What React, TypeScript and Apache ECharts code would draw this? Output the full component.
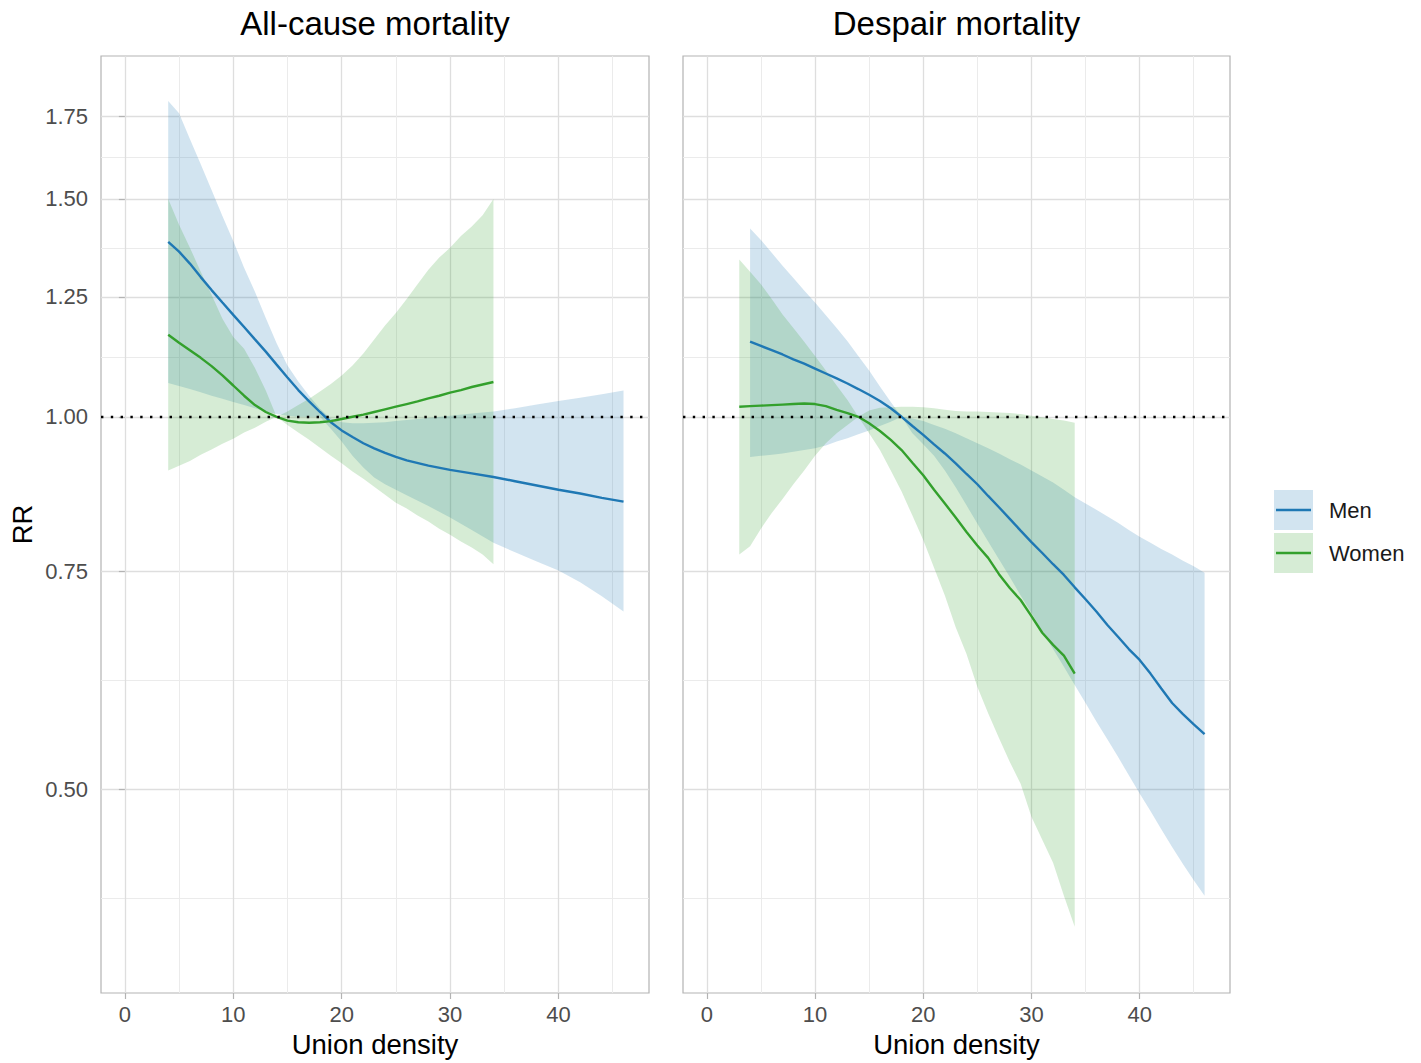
import React, { useEffect, useRef } from 'react';
import * as echarts from 'echarts';

// ---- axis breaks ----
const xTicks = [0, 10, 20, 30, 40];
const xMinorTicks = [5, 15, 25, 35, 45];
const rrTicks = [0.5, 0.75, 1, 1.25, 1.5, 1.75];
const rrMinorTicks = [0.408, 0.612, 1.118, 1.369, 1.62];

const panelTitles = ['All-cause mortality', 'Despair mortality'];
const groupNames = ['Men', 'Women'];

// ---- All-cause mortality ----
const acMenX = [4, 5, 6, 7, 8, 9, 10, 11, 12, 13, 14, 15, 16, 17, 18, 19, 20, 21, 22, 23, 24, 25, 26, 28, 30, 32, 34, 36, 38, 40, 42, 44, 46];
const acMenRR = [1.385, 1.36, 1.33, 1.297, 1.266, 1.237, 1.209, 1.182, 1.155, 1.129, 1.102, 1.076, 1.051, 1.029, 1.009, 0.99, 0.975, 0.963, 0.952, 0.943, 0.935, 0.928, 0.922, 0.913, 0.906, 0.9, 0.894, 0.887, 0.88, 0.873, 0.867, 0.86, 0.854];
const acMenHi = [1.8, 1.76, 1.677, 1.6, 1.525, 1.453, 1.387, 1.32, 1.262, 1.202, 1.147, 1.1, 1.068, 1.04, 1.015, 0.997, 0.99, 0.988, 0.988, 0.989, 0.99, 0.992, 0.994, 0.998, 1.002, 1.006, 1.01, 1.016, 1.023, 1.03, 1.036, 1.043, 1.05];
const acMenLo = [1.065, 1.059, 1.053, 1.047, 1.04, 1.034, 1.028, 1.022, 1.016, 1.01, 1.005, 1.002, 1.0, 1.0, 1.0, 0.978, 0.955, 0.93, 0.91, 0.893, 0.882, 0.873, 0.864, 0.847, 0.829, 0.81, 0.791, 0.777, 0.764, 0.751, 0.735, 0.716, 0.696];

const acWomenX = [4, 5, 6, 7, 8, 9, 10, 11, 12, 13, 14, 15, 16, 17, 18, 19, 20, 21, 22, 23, 24, 25, 26, 27, 28, 29, 30, 31, 32, 33, 34];
const acWomenRR = [1.165, 1.148, 1.132, 1.116, 1.099, 1.08, 1.06, 1.04, 1.022, 1.009, 1.0, 0.993, 0.99, 0.989, 0.99, 0.992, 0.996, 1.0, 1.004, 1.009, 1.014, 1.019, 1.024, 1.029, 1.035, 1.04, 1.046, 1.051, 1.057, 1.062, 1.067];
const acWomenHi = [1.5, 1.43, 1.37, 1.31, 1.255, 1.2, 1.16, 1.135, 1.095, 1.05, 1.0, 1.01, 1.022, 1.034, 1.048, 1.063, 1.08, 1.1, 1.125, 1.155, 1.185, 1.213, 1.245, 1.28, 1.315, 1.345, 1.37, 1.4, 1.425, 1.455, 1.5];
const acWomenLo = [0.905, 0.913, 0.921, 0.932, 0.941, 0.951, 0.96, 0.971, 0.98, 0.991, 1.0, 0.985, 0.971, 0.958, 0.944, 0.93, 0.917, 0.903, 0.891, 0.878, 0.865, 0.852, 0.843, 0.832, 0.823, 0.812, 0.803, 0.793, 0.784, 0.774, 0.76];

// ---- Despair mortality ----
const dpMenX = [4, 5, 6, 7, 8, 9, 10, 11, 12, 13, 14, 15, 16, 17, 18, 19, 20, 21, 22, 23, 24, 25, 26, 27, 28, 29, 30, 31, 32, 33, 34, 35, 36, 37, 38, 39, 40, 41, 42, 43, 44, 45, 46];
const dpMenRR = [1.15, 1.141, 1.132, 1.123, 1.113, 1.104, 1.094, 1.084, 1.074, 1.064, 1.053, 1.042, 1.03, 1.016, 1.0, 0.983, 0.967, 0.95, 0.934, 0.917, 0.899, 0.882, 0.863, 0.845, 0.827, 0.809, 0.792, 0.776, 0.76, 0.745, 0.728, 0.712, 0.696, 0.679, 0.664, 0.649, 0.636, 0.62, 0.603, 0.587, 0.575, 0.564, 0.554];
const dpMenHi = [1.42, 1.39, 1.357, 1.325, 1.295, 1.265, 1.237, 1.208, 1.18, 1.151, 1.12, 1.09, 1.058, 1.028, 1.0, 0.997, 0.992, 0.985, 0.978, 0.97, 0.961, 0.952, 0.943, 0.934, 0.924, 0.915, 0.905, 0.895, 0.885, 0.873, 0.861, 0.851, 0.841, 0.831, 0.821, 0.81, 0.8, 0.791, 0.782, 0.774, 0.765, 0.757, 0.748];
const dpMenLo = [0.928, 0.93, 0.932, 0.934, 0.937, 0.94, 0.943, 0.948, 0.955, 0.961, 0.968, 0.975, 0.983, 0.991, 1.0, 0.97, 0.95, 0.93, 0.905, 0.877, 0.848, 0.82, 0.793, 0.767, 0.742, 0.717, 0.694, 0.671, 0.649, 0.628, 0.607, 0.587, 0.567, 0.549, 0.531, 0.513, 0.496, 0.48, 0.464, 0.449, 0.435, 0.422, 0.41];

const dpWomenX = [3, 4, 5, 6, 7, 8, 9, 10, 11, 12, 13, 14, 15, 16, 17, 18, 19, 20, 21, 22, 23, 24, 25, 26, 27, 28, 29, 30, 31, 32, 33, 34];
const dpWomenRR = [1.019, 1.02, 1.021, 1.022, 1.023, 1.024, 1.025, 1.024, 1.02, 1.013, 1.007, 1.0, 0.988, 0.974, 0.958, 0.94, 0.918, 0.897, 0.873, 0.851, 0.829, 0.807, 0.787, 0.769, 0.746, 0.727, 0.711, 0.69, 0.669, 0.654, 0.641, 0.62];
const dpWomenHi = [1.34, 1.31, 1.28, 1.245, 1.21, 1.18, 1.15, 1.12, 1.09, 1.06, 1.032, 1.0, 1.012, 1.017, 1.018, 1.019, 1.019, 1.018, 1.016, 1.013, 1.011, 1.01, 1.01, 1.009, 1.008, 1.007, 1.005, 1.002, 0.999, 0.996, 0.993, 0.989];
const dpWomenLo = [0.774, 0.786, 0.812, 0.836, 0.858, 0.882, 0.905, 0.93, 0.952, 0.97, 0.985, 1.0, 0.97, 0.94, 0.905, 0.87, 0.832, 0.795, 0.755, 0.717, 0.676, 0.643, 0.605, 0.576, 0.55, 0.526, 0.505, 0.475, 0.455, 0.436, 0.41, 0.387];

// ---- styling ----
const FONT = 'Liberation Sans, Arial, Helvetica, sans-serif';
const MEN_LINE = '#1f78b4';
const WOMEN_LINE = '#33a02c';
const MEN_FILL = 'rgba(31,120,180,0.2)';
const WOMEN_FILL = 'rgba(51,160,44,0.2)';
const X_MIN = -2.2;
const X_MAX = 48.35;
const Y_MIN = 0.3421;
const Y_MAX = 1.9575;

const GRID_TOP = 56;
const GRID_H = 938;
const GRIDS = [
  { left: 101, width: 548 },
  { left: 683, width: 547 },
];

function ribbon(name: string, xs: number[], lo: number[], hi: number[], fill: string, panel: number) {
  return {
    type: 'custom',
    name,
    xAxisIndex: panel,
    yAxisIndex: panel,
    silent: true,
    clip: true,
    data: [[xs[0], lo[0]]],
    renderItem: (_params: any, api: any) => {
      const pts: number[][] = [];
      for (let i = 0; i < xs.length; i++) pts.push(api.coord([xs[i], hi[i]]));
      for (let i = xs.length - 1; i >= 0; i--) pts.push(api.coord([xs[i], lo[i]]));
      return { type: 'polygon', shape: { points: pts }, style: { fill, stroke: null } };
    },
  };
}

function curve(name: string, xs: number[], ys: number[], color: string, panel: number, withRef: boolean) {
  const s: any = {
    type: 'line',
    name,
    xAxisIndex: panel,
    yAxisIndex: panel,
    silent: true,
    showSymbol: false,
    symbol: 'none',
    smooth: false,
    data: xs.map((x, i) => [x, ys[i]]),
    lineStyle: { color, width: 2.4 },
    itemStyle: { color },
  };
  if (withRef) {
    // reference line at RR = 1
    s.markLine = {
      silent: true,
      symbol: ['none', 'none'],
      label: { show: false },
      lineStyle: { color: '#000', type: [2.4, 7.4], width: 2.4 },
      emphasis: { disabled: true },
      data: [{ yAxis: 1 }],
    };
  }
  return s;
}

function majorX(panel: number) {
  return {
    gridIndex: panel,
    type: 'value',
    min: X_MIN,
    max: X_MAX,
    position: 'bottom',
    axisLine: { show: false },
    axisTick: { show: true, length: 6, customValues: xTicks, lineStyle: { color: '#b3b3b3', width: 1.2 } },
    axisLabel: { customValues: xTicks, fontSize: 22, color: '#4d4d4d', fontFamily: FONT, margin: 10 },
    splitLine: { show: true, lineStyle: { color: '#dedede', width: 1.3 } },
    name: 'Union density',
    nameLocation: 'middle',
    nameGap: 37,
    nameTextStyle: { fontSize: 27.5, color: '#000', fontFamily: FONT },
  };
}

function minorX(panel: number) {
  return {
    gridIndex: panel,
    type: 'value',
    min: X_MIN,
    max: X_MAX,
    position: 'top',
    axisLine: { show: false },
    axisTick: { show: false, customValues: xMinorTicks },
    axisLabel: { show: false, customValues: xMinorTicks },
    splitLine: { show: true, lineStyle: { color: '#ebebeb', width: 1 } },
  };
}

function majorY(panel: number) {
  const first = panel === 0;
  return {
    gridIndex: panel,
    type: 'log',
    min: Y_MIN,
    max: Y_MAX,
    position: 'left',
    axisLine: { show: false },
    axisTick: { show: first, length: 6, customValues: rrTicks, lineStyle: { color: '#b3b3b3', width: 1.2 } },
    axisLabel: {
      show: first,
      customValues: rrTicks,
      formatter: (v: number) => Number(v).toFixed(2),
      fontSize: 22,
      color: '#4d4d4d',
      fontFamily: FONT,
      margin: 13,
    },
    splitLine: { show: true, lineStyle: { color: '#dedede', width: 1.3 } },
    name: first ? 'RR' : '',
    nameLocation: 'middle',
    nameGap: 65,
    nameRotate: 90,
    nameTextStyle: { fontSize: 27.5, color: '#000', fontFamily: FONT },
  };
}

function minorY(panel: number) {
  return {
    gridIndex: panel,
    type: 'log',
    min: Y_MIN,
    max: Y_MAX,
    position: 'right',
    axisLine: { show: false },
    axisTick: { show: false, customValues: rrMinorTicks },
    axisLabel: { show: false, customValues: rrMinorTicks },
    splitLine: { show: true, lineStyle: { color: '#ebebeb', width: 1 } },
  };
}

function legendGraphic() {
  const items = [
    { label: groupNames[0], fill: MEN_FILL, line: MEN_LINE, top: 490 },
    { label: groupNames[1], fill: WOMEN_FILL, line: WOMEN_LINE, top: 533 },
  ];
  const out: any[] = [];
  items.forEach((it) => {
    out.push({ type: 'rect', left: 1274, top: it.top, shape: { x: 0, y: 0, width: 39, height: 40 }, style: { fill: it.fill }, silent: true });
    out.push({ type: 'line', shape: { x1: 1276, y1: it.top + 20, x2: 1311, y2: it.top + 20 }, style: { stroke: it.line, lineWidth: 2.5 }, silent: true });
    out.push({
      type: 'text',
      x: 1329,
      y: it.top + 20,
      style: { text: it.label, font: `22px ${FONT}`, fill: '#1a1a1a', textAlign: 'left', textVerticalAlign: 'middle' },
      silent: true,
    });
  });
  return out;
}

function titleGraphic() {
  return GRIDS.map((g, i) => ({
    type: 'text',
    x: g.left + g.width / 2,
    y: 23,
    style: { text: panelTitles[i], font: `33px ${FONT}`, fill: '#000', textAlign: 'center', textVerticalAlign: 'middle' },
    silent: true,
  }));
}

function buildOption() {
  return {
    animation: false,
    backgroundColor: '#ffffff',
    grid: GRIDS.map((g) => ({
      left: g.left,
      top: GRID_TOP,
      width: g.width,
      height: GRID_H,
      show: true,
      backgroundColor: 'transparent',
      borderColor: '#b3b3b3',
      borderWidth: 1.2,
    })),
    xAxis: [majorX(0), majorX(1), minorX(0), minorX(1)],
    yAxis: [majorY(0), majorY(1), minorY(0), minorY(1)],
    series: [
      ribbon('Men band', acMenX, acMenLo, acMenHi, MEN_FILL, 0),
      ribbon('Women band', acWomenX, acWomenLo, acWomenHi, WOMEN_FILL, 0),
      curve('Men', acMenX, acMenRR, MEN_LINE, 0, false),
      curve('Women', acWomenX, acWomenRR, WOMEN_LINE, 0, true),
      ribbon('Men band', dpMenX, dpMenLo, dpMenHi, MEN_FILL, 1),
      ribbon('Women band', dpWomenX, dpWomenLo, dpWomenHi, WOMEN_FILL, 1),
      curve('Men', dpMenX, dpMenRR, MEN_LINE, 1, false),
      curve('Women', dpWomenX, dpWomenRR, WOMEN_LINE, 1, true),
    ],
    graphic: [...titleGraphic(), ...legendGraphic()],
  };
}

export default function App() {
  const ref = useRef<HTMLDivElement>(null);
  useEffect(() => {
    if (!ref.current) return;
    const chart = echarts.init(ref.current, null, { renderer: 'svg' });
    chart.setOption(buildOption() as any);
    return () => chart.dispose();
  }, []);
  return (
    <div
      ref={ref}
      style={{ position: 'fixed', left: 0, top: 0, width: 1421, height: 1063, background: '#ffffff' }}
    />
  );
}
